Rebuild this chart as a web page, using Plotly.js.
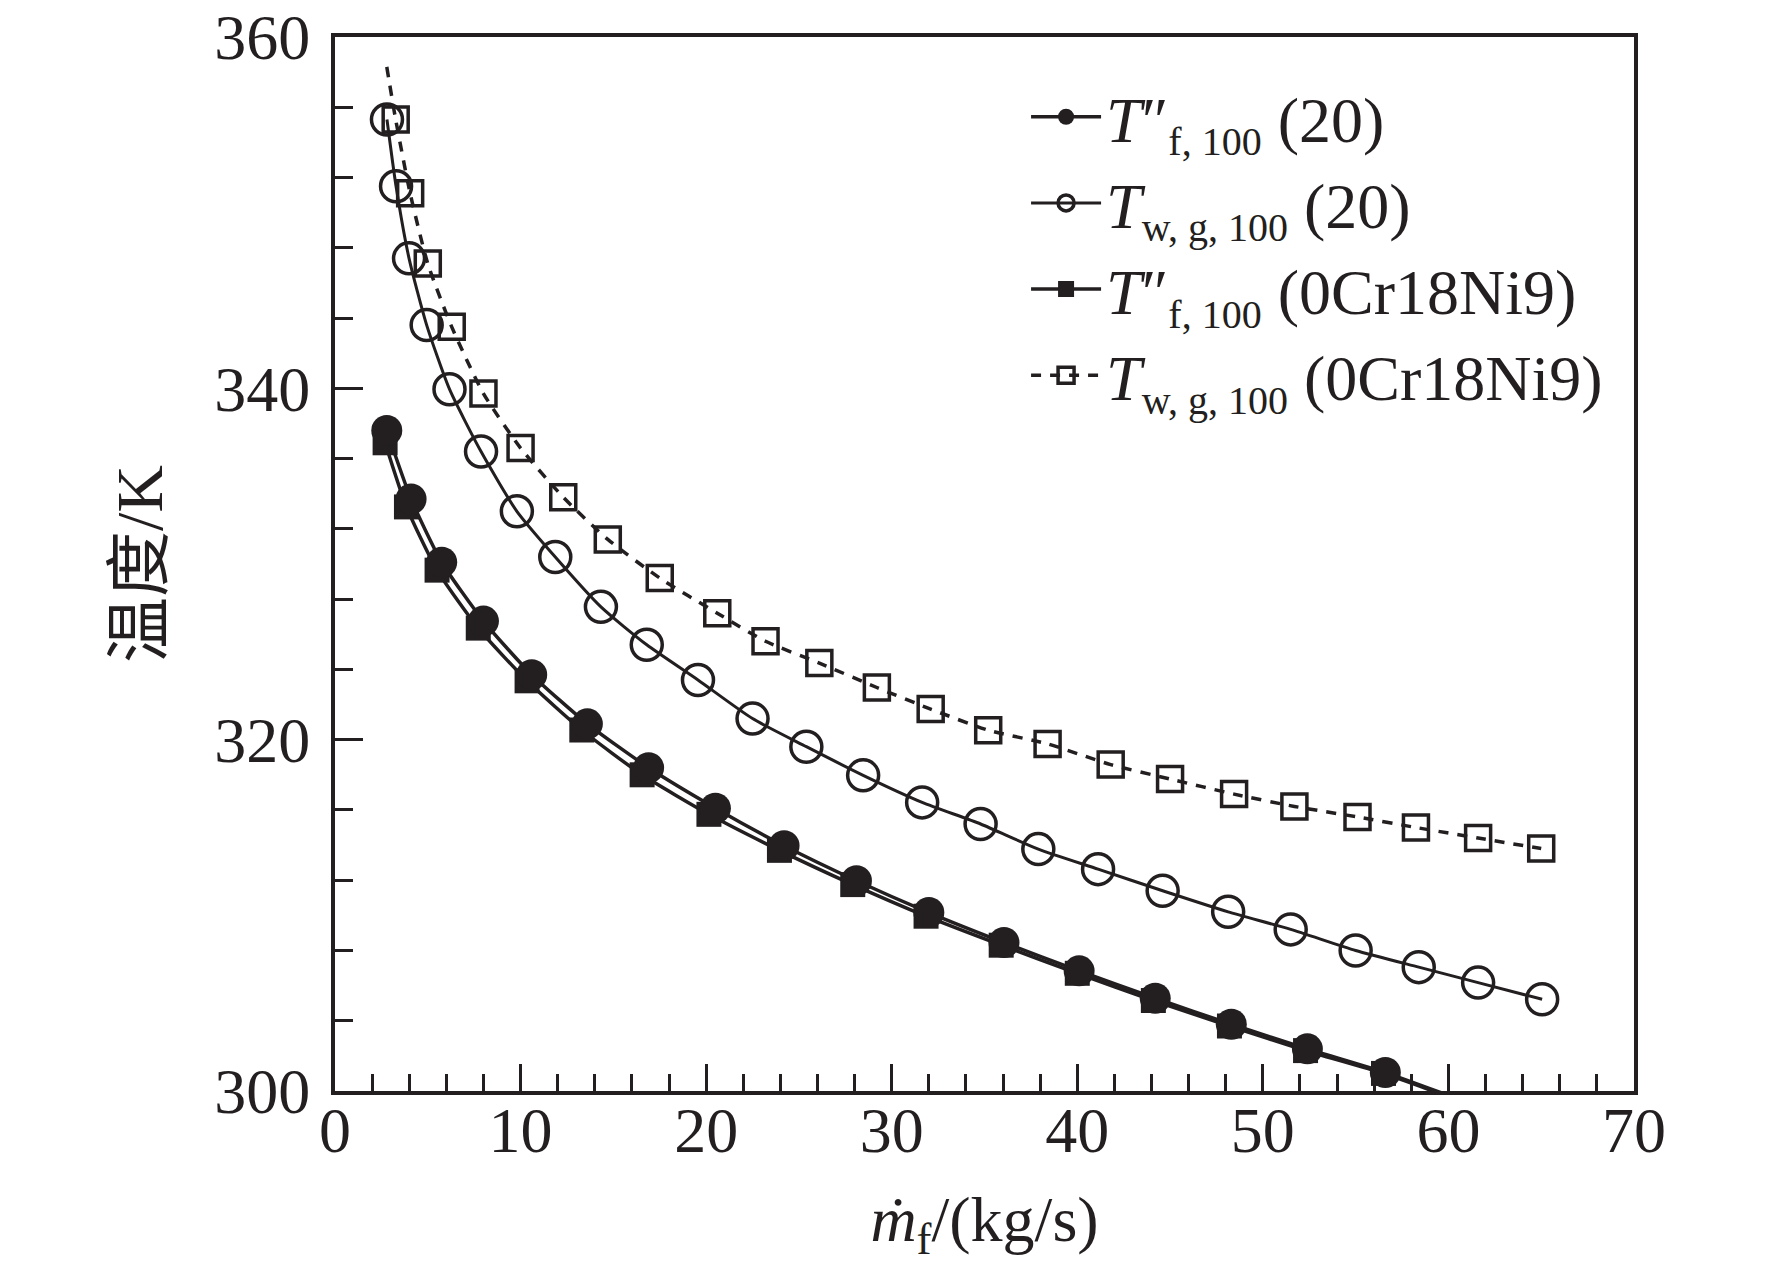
<!DOCTYPE html>
<html>
<head>
<meta charset="utf-8">
<script src="https://cdn.plot.ly/plotly-3.0.1.min.js"></script>
<style>html,body{margin:0;padding:0;background:#fff;}#chart{width:1772px;height:1279px;}</style>
</head>
<body>
<div id="chart"></div>
<script>
// T''_f,100 (20) — filled circles (last x/y pair: where the curve leaves the plot, no marker)
const tf20_x = [2.79, 4.1, 5.75, 8.0, 10.6, 13.6, 16.9, 20.5, 24.2, 28.1, 32.0, 36.05, 40.1, 44.2, 48.3, 52.4, 56.6, 60.0];
const tf20_y = [337.6, 333.7, 330.1, 326.75, 323.7, 320.9, 318.4, 316.1, 313.96, 311.97, 310.16, 308.45, 306.84, 305.28, 303.8, 302.4, 301.05, 299.75];

// Tw,g,100 (20) — open circles
const tw20_x = [2.8, 3.29, 3.99, 4.94, 6.17, 7.87, 9.8, 11.87, 14.33, 16.8, 19.56, 22.5, 25.4, 28.46, 31.64, 34.79, 37.9, 41.12, 44.6, 48.13, 51.5, 55.0, 58.4, 61.6, 65.05];
const tw20_y = [355.3, 351.5, 347.4, 343.6, 339.95, 336.4, 333.0, 330.4, 327.56, 325.4, 323.4, 321.2, 319.6, 317.97, 316.43, 315.2, 313.77, 312.63, 311.4, 310.2, 309.2, 308.0, 307.05, 306.17, 305.22];

// T''_f,100 (0Cr18Ni9) — filled squares (last pair: curve end, no marker)
const tfss_x = [2.7, 3.85, 5.5, 7.72, 10.35, 13.3, 16.55, 20.15, 23.95, 27.9, 31.85, 35.9, 40.0, 44.1, 48.2, 52.3, 56.5, 59.8];
const tfss_y = [336.9, 333.25, 329.65, 326.35, 323.35, 320.55, 318.0, 315.75, 313.7, 311.75, 309.95, 308.3, 306.7, 305.15, 303.7, 302.3, 301.0, 299.75];

// Tw,g,100 (0Cr18Ni9) — open squares, dashed (first pair: curve start, no marker)
const twss_x = [2.79, 3.27, 4.05, 5.0, 6.29, 8.0, 10.0, 12.3, 14.7, 17.5, 20.6, 23.2, 26.1, 29.2, 32.1, 35.2, 38.4, 41.8, 45.0, 48.45, 51.7, 55.1, 58.25, 61.6, 65.0];
const twss_y = [358.3, 355.3, 351.1, 347.1, 343.5, 339.7, 336.6, 333.8, 331.4, 329.2, 327.2, 325.6, 324.36, 322.97, 321.74, 320.54, 319.76, 318.58, 317.76, 316.9, 316.2, 315.6, 315.0, 314.4, 313.8];

const SUB = (t) => '<sub><span style="font-size:40px">' + t + '</span></sub>';
const legendNames = [
  '<i>T</i>″' + SUB('f, 100') + ' (20)',
  '<i>T</i>' + SUB('w, g, 100') + ' (20)',
  '<i>T</i>″' + SUB('f, 100') + ' (0Cr18Ni9)',
  '<i>T</i>' + SUB('w, g, 100') + ' (0Cr18Ni9)'
];
const xTitle = '<i>ṁ</i><sub>f</sub>/(kg/s)';
const yTitle = '温度/K';

const INK = '#231f20';
const FONT = 'Liberation Serif, Times New Roman, Noto Sans CJK SC, serif';

// marker sizes: hide the marker on curve-only end points
function sizes(n, s, hideFirst, hideLast) {
  const a = new Array(n).fill(s);
  if (hideFirst) a[0] = 0;
  if (hideLast) a[n - 1] = 0;
  return a;
}

const tf20 = {
  name: legendNames[0], x: tf20_x, y: tf20_y, mode: 'lines+markers',
  line: {color: INK, width: 3.5, shape: 'spline', smoothing: 0.6},
  marker: {symbol: 'circle', size: sizes(tf20_x.length, 31, false, true), color: INK, opacity: 1, line: {width: 0}},
  legendrank: 1
};
const tw20 = {
  name: legendNames[1], x: tw20_x, y: tw20_y, mode: 'lines+markers',
  line: {color: INK, width: 3, shape: 'spline', smoothing: 0.6},
  marker: {symbol: 'circle-open', size: 31, color: INK, opacity: 1, line: {width: 3.5, color: INK}},
  legendrank: 2
};
const tfss = {
  name: legendNames[2], x: tfss_x, y: tfss_y, mode: 'lines+markers',
  line: {color: INK, width: 3.5, shape: 'spline', smoothing: 0.6},
  marker: {symbol: 'square', size: sizes(tfss_x.length, 25, false, true), color: INK, opacity: 1, line: {width: 0}},
  legendrank: 3
};
const twss = {
  name: legendNames[3], x: twss_x, y: twss_y, mode: 'lines+markers',
  line: {color: INK, width: 3.5, dash: '10px,9px', shape: 'spline', smoothing: 0.6},
  marker: {symbol: 'square-open', size: sizes(twss_x.length, 25, true, false), color: INK, opacity: 1, line: {width: 3.5, color: INK}},
  legendrank: 4
};

// draw filled squares under filled circles
const data = [tfss, tf20, twss, tw20];

const layout = {
  width: 1772, height: 1279,
  paper_bgcolor: '#fff', plot_bgcolor: '#fff',
  margin: {l: 335, r: 138, t: 37, b: 188},
  font: {family: FONT, color: INK, size: 64},
  showlegend: true,
  legend: {
    x: 0.532, y: 0.970, xanchor: 'left', yanchor: 'top',
    bgcolor: 'rgba(0,0,0,0)', borderwidth: 0,
    font: {family: FONT, size: 64, color: INK},
    itemwidth: 70, tracegroupgap: 0, traceorder: 'normal'
  },
  xaxis: {
    range: [0, 70], dtick: 10, tick0: 0,
    showgrid: false, zeroline: false,
    showline: true, linewidth: 4, linecolor: INK, mirror: true,
    ticks: 'inside', ticklen: 27, tickwidth: 3, tickcolor: INK,
    minor: {ticks: 'inside', dtick: 2, ticklen: 17, tickwidth: 3, tickcolor: INK, showgrid: false},
    tickfont: {family: FONT, size: 64, color: INK},
    ticklabelstandoff: -20,
    title: {text: xTitle, font: {family: FONT, size: 64, color: INK}, standoff: 32}
  },
  yaxis: {
    range: [300, 360], dtick: 20, tick0: 300,
    showgrid: false, zeroline: false,
    showline: true, linewidth: 4, linecolor: INK, mirror: true,
    ticks: 'inside', ticklen: 28, tickwidth: 3, tickcolor: INK,
    minor: {ticks: 'inside', dtick: 4, ticklen: 18, tickwidth: 3, tickcolor: INK, showgrid: false},
    tickfont: {family: FONT, size: 64, color: INK},
    ticklabelstandoff: 8,
    title: {text: yTitle, font: {family: FONT, size: 66, color: INK}, standoff: 31}
  }
};

Plotly.newPlot('chart', data, layout, {staticPlot: true});
</script>
</body>
</html>
